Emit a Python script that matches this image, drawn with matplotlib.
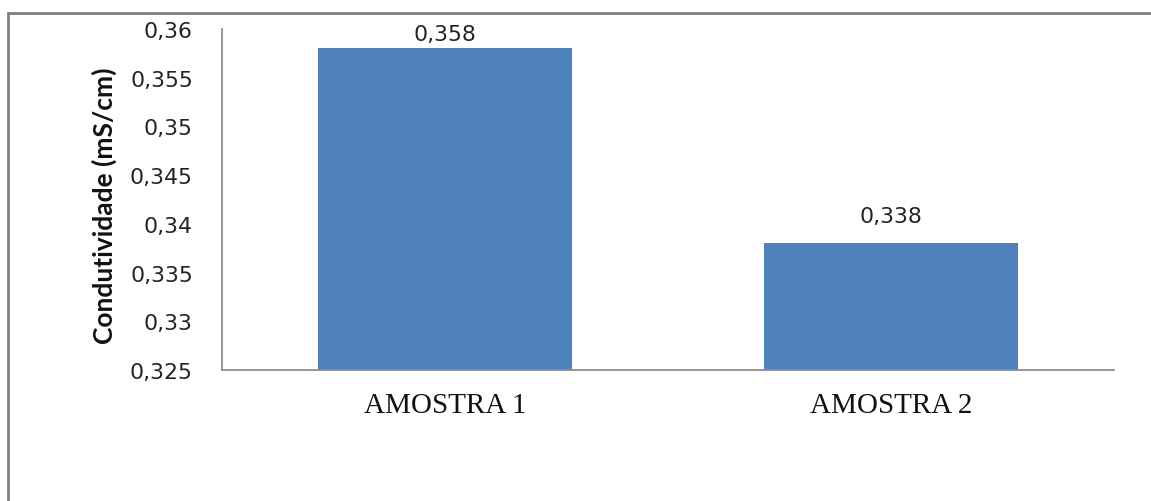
import matplotlib
matplotlib.use("Agg")
import matplotlib.pyplot as plt
from matplotlib.patches import Rectangle

categories = ["AMOSTRA 1", "AMOSTRA 2"]
values = [0.358, 0.338]
value_labels = ["0,358", "0,338"]
yticks = [0.325, 0.33, 0.335, 0.34, 0.345, 0.35, 0.355, 0.36]
ytick_labels = ["0,325", "0,33", "0,335", "0,34", "0,345", "0,35", "0,355", "0,36"]
ylabel = "Condutividade (mS/cm)"

W, H = 1151, 502
fig = plt.figure(figsize=(W / 100, H / 100), dpi=100)
fig.patch.set_facecolor("white")

# outer chart border (extends beyond right/bottom edge)
fig.patches.append(Rectangle((8 / W, -0.5), 2.0, 1 - 13.5 / H + 0.5,
                             transform=fig.transFigure, fill=False,
                             edgecolor="#7f7f7f", linewidth=2.0))

ax = fig.add_axes([222 / W, 1 - 371 / H, (1114 - 222) / W, (371 - 30) / H])
x = list(range(len(categories)))
ax.bar(x, values, width=0.57, color="#4F81BD", zorder=2)
ax.set_xlim(-0.5, len(categories) - 0.5)
ax.set_ylim(0.325, 0.36)

ax.set_yticks(yticks)
ax.set_yticklabels(ytick_labels, fontsize=15.8, family="DejaVu Sans", color="#222222")
ax.set_xticks(x)
ax.set_xticklabels(categories, fontsize=21, family="Liberation Serif", color="#111111")
ax.tick_params(axis="y", length=0, pad=21)
ax.tick_params(axis="x", length=0, pad=16)

for s in ["top", "right"]:
    ax.spines[s].set_visible(False)
for s in ["left", "bottom"]:
    ax.spines[s].set_color("#8c8c8c")
    ax.spines[s].set_linewidth(1.3)

for xi, v, lab in zip(x, values, value_labels):
    ty = min(v + 0.00277, 0.35949)
    ax.text(xi, ty, lab, ha="center", va="center", fontsize=15.8,
            family="DejaVu Sans", color="#222222", clip_on=False)

fig.text(104 / W, 1 - 206 / H, ylabel, rotation=90, ha="center", va="center",
         fontsize=19, fontweight="bold", family="Lato", color="#111111")

fig.savefig("out.png", dpi=100, facecolor="white")
